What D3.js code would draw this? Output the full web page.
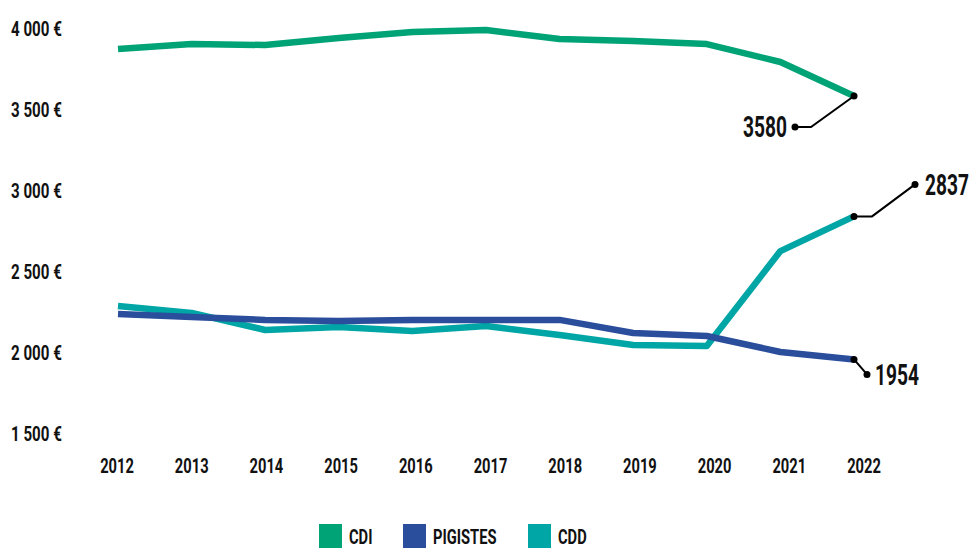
<!DOCTYPE html>
<html><head><meta charset="utf-8">
<script src="https://cdn.jsdelivr.net/npm/d3@7"></script>
<style>
body{margin:0;background:#fff;}
text{font-family:Roboto,"Noto Sans",sans-serif;font-weight:bold;fill:#111;}
</style></head>
<body><svg id="c" width="973" height="549"></svg>
<script>
const years = [2012,2013,2014,2015,2016,2017,2018,2019,2020,2021,2022];
const cdi = [3870,3901,3895,3938,3975,3988,3932,3920,3901,3790,3580];
const pigistes = [2235,2216,2198,2191,2198,2198,2198,2117,2099,2000,1954];
const cdd = [2284,2241,2136,2154,2130,2160,2105,2043,2037,2623,2837];
const yTicks = [1500,2000,2500,3000,3500,4000];
const seriesNames = ["CDI","PIGISTES","CDD"];
const colors = ["#00a376","#2a4d9c","#00a5a5"];

const svg = d3.select("#c");
const y = d3.scaleLinear().domain([1500,4000]).range([433,28]);
const xAxis = d3.scalePoint().domain(years).range([117,864]);
const x = d3.scalePoint().domain(years).range([118,854]);

// condensed text helper
function ctext(g, px, py, str, size, sx, anchor){
  return g.append("text")
    .attr("transform",`translate(${px},${py}) scale(${sx},1)`)
    .attr("dy","0.36em").attr("font-size",size)
    .attr("text-anchor",anchor||"start").text(str);
}

const fmt = v => d3.format(",")(v).replace(/,/g," ") + " €";
const gy = svg.append("g");
yTicks.forEach(d=>ctext(gy, 11, y(d), fmt(d), 21, 0.72));

const gx = svg.append("g");
years.forEach(d=>ctext(gx, xAxis(d), 465, d, 21, 0.7, "middle"));

const line = d3.line().x((d,i)=>x(years[i])).y(d=>y(d)).curve(d3.curveLinear);
const all = [cdi,pigistes,cdd];
const order = [0,2,1];
order.forEach(k=>{
  svg.append("path").attr("d",line(all[k])).attr("fill","none")
    .attr("stroke",colors[k]).attr("stroke-width",6.5).attr("stroke-linejoin","round");
});

// annotations
function annot(series, dx1, dy1, dx2, dy2, anchor, tdx){
  const last = series[series.length-1];
  const px = x(years[years.length-1]), py = y(last);
  const p1 = [px+dx1, py+dy1], p2 = [px+dx2, py+dy2];
  svg.append("path").attr("d",d3.line()([[px,py],p1,p2])).attr("fill","none")
    .attr("stroke","#000").attr("stroke-width",2);
  svg.append("circle").attr("cx",px).attr("cy",py).attr("r",3.5).attr("fill","#000");
  svg.append("circle").attr("cx",p2[0]).attr("cy",p2[1]).attr("r",3.5).attr("fill","#000");
  ctext(svg, p2[0]+tdx, p2[1], last, 29, 0.66, anchor);
}
annot(cdi,-43,31,-59,31,"end",-8);
annot(cdd,18,0,61,-32,"start",10);
annot(pigistes,0,0,13,15,"start",8);

// legend
const legX = [319,403,528];
const lg = svg.append("g");
seriesNames.forEach((n,i)=>{
  lg.append("rect").attr("x",legX[i]).attr("y",524).attr("width",23).attr("height",24).attr("fill",colors[i]);
  ctext(lg, legX[i]+30, 536, n, 21, 0.7);
});
</script></body></html>
